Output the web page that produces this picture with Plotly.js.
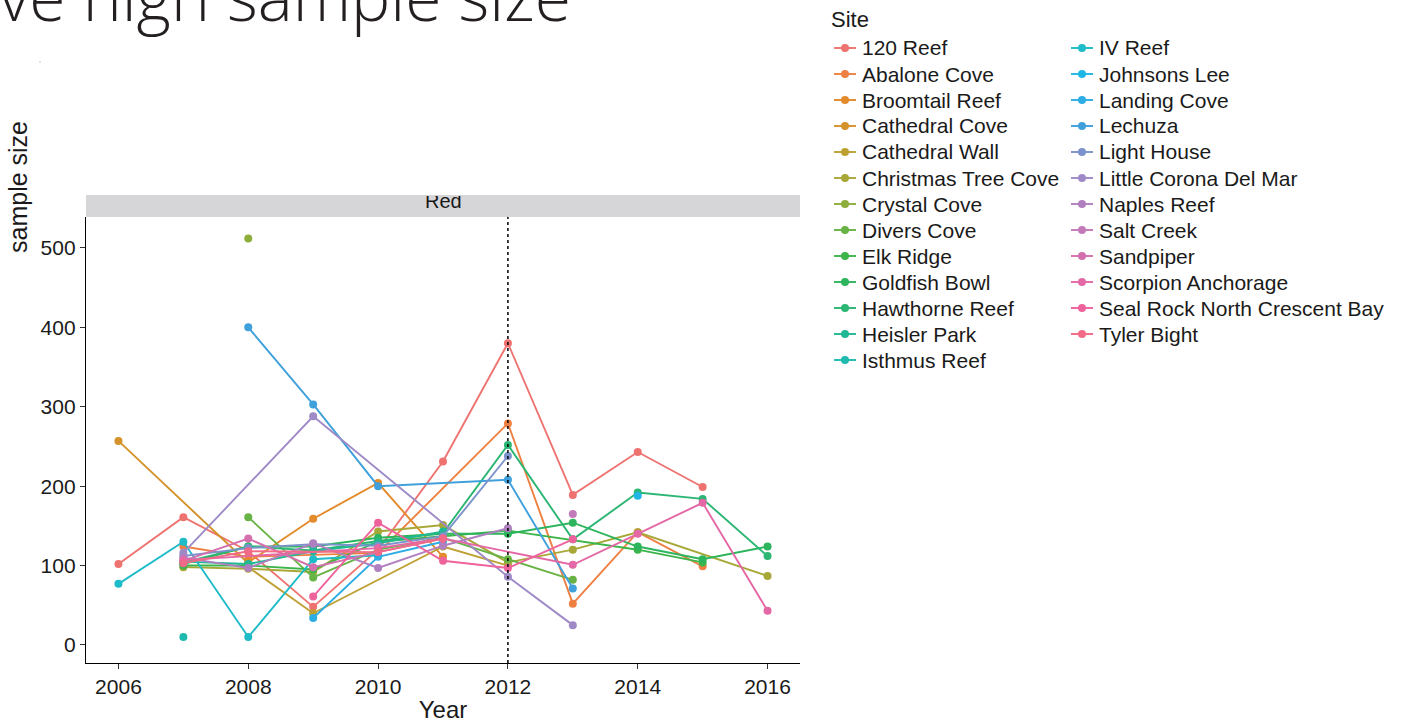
<!DOCTYPE html>
<html>
<head>
<meta charset="utf-8">
<script src="https://cdn.plot.ly/plotly-3.0.1.min.js"></script>
<style>
  html, body { margin: 0; padding: 0; background: #ffffff; }
  #chart { width: 1406px; height: 723px; }
</style>
</head>
<body>
<div id="chart"></div>
<script>
// ---- data ----
const years = [2006, 2007, 2008, 2009, 2010, 2011, 2012, 2013, 2014, 2015, 2016];
const sites = [
  "120 Reef", "Abalone Cove", "Broomtail Reef", "Cathedral Cove", "Cathedral Wall",
  "Christmas Tree Cove", "Crystal Cove", "Divers Cove", "Elk Ridge", "Goldfish Bowl",
  "Hawthorne Reef", "Heisler Park", "Isthmus Reef", "IV Reef", "Johnsons Lee",
  "Landing Cove", "Lechuza", "Light House", "Little Corona Del Mar", "Naples Reef",
  "Salt Creek", "Sandpiper", "Scorpion Anchorage", "Seal Rock North Crescent Bay", "Tyler Bight"
];
const reef120      = [102, 161, 118, 48, 120, 231, 380, 189, 243, 199, null];
const abaloneCove  = [null, 124, 111, null, 116, null, 279, 52, 142, 99, null];
const broomtail    = [null, null, 104, 159, 204, 111, null, null, null, null, null];
const cathCove     = [257, null, 103, null, null, null, null, null, null, null, null];
const cathWall     = [null, null, 98, 40, null, 124, 100, null, null, null, null];
const xmasTree     = [null, 98, 96, 92, 143, 151, 104, 120, 142, null, 87];
const crystalCove  = [null, null, 512, null, null, null, null, null, null, null, null];
const diversCove   = [null, null, 161, 85, 120, 135, 108, 82, null, null, null];
const elkRidge     = [null, 100, 100, 95, 130, 137, 144, null, 120, 104, null];
const goldfishBowl = [null, 102, 124, 124, 135, 140, 140, 154, 124, 108, 124];
const hawthorne    = [null, 104, 124, 119, 131, 141, 252, 133, 192, 184, 112];
const heislerPark  = [null, 105, 102, 118, 128, 143, null, null, null, null, null];
const isthmusReef  = [null, 10, null, null, null, null, null, null, null, null, null];
const ivReef       = [77, 130, 10, 108, 113, null, null, null, null, null, null];
const johnsonsLee  = [null, null, null, null, null, null, null, null, 188, null, null];
const landingCove  = [null, null, null, 34, 111, 130, null, null, null, null, null];
const lechuza      = [null, null, 400, 303, 200, null, 208, 71, null, null, null];
const lightHouse   = [null, 112, 122, 127, 125, 137, 238, null, null, null, null];
const littleCorona = [null, 116, null, 288, null, null, 86, 25, null, null, null];
const naplesReef   = [null, 110, 97, 128, 97, 125, 147, null, null, null, null];
const saltCreek    = [null, null, null, null, null, null, null, 165, null, null, null];
const sandpiper    = [null, 106, 134, 98, 117, 134, null, null, null, null, null];
const scorpion     = [null, 107, null, null, 122, 134, null, 101, 140, 179, 43];
const sealRock     = [null, null, null, 61, 154, 106, 97, 133, null, null, null];
const tylerBight   = [null, 103, 118, null, 117, 134, null, null, null, null, null];
const siteValues = [reef120, abaloneCove, broomtail, cathCove, cathWall, xmasTree, crystalCove,
  diversCove, elkRidge, goldfishBowl, hawthorne, heislerPark, isthmusReef, ivReef, johnsonsLee,
  landingCove, lechuza, lightHouse, littleCorona, naplesReef, saltCreek, sandpiper, scorpion,
  sealRock, tylerBight];
const xTicks = [2006, 2008, 2010, 2012, 2014, 2016];
const yTicks = [0, 100, 200, 300, 400, 500];
const markerYear = 2012;
const panelLabel = "Red";
const legendTitle = "Site";
const xTitle = "Year";
const yTitle = "sample size";
const slideTitle = "ve high sample size";

// ---- styling ----
const palette = [
  "#EE7370", "#EF8043", "#E38A2A", "#D4922A", "#BEA032", "#A8A838", "#8DAE3A", "#68B346",
  "#3BB54A", "#2CB55C", "#2BB673", "#20B894", "#1EBAB0", "#1EBBC9", "#1EB7E5", "#2EADE5",
  "#3FA0DB", "#7C92CC", "#9E8AC6", "#B07FC0", "#C27AB8", "#D470AE", "#E468A6", "#EE639C", "#F16A87"
];
const font = "Liberation Sans, Arial, sans-serif";
const ink = "#1a1a1a";

// plot-area geometry in pixels
const W = 1406, H = 723, L = 86, R = 800, T = 217, B = 663;
const px = v => (v - L) / (R - L);   // pixel x -> paper
const py = v => (B - v) / (B - T);   // pixel y -> paper

const traces = sites.map((name, i) => {
  const xs = [], ys = [];
  siteValues[i].forEach((v, j) => { if (v !== null) { xs.push(years[j]); ys.push(v); } });
  return {
    type: "scatter", mode: "lines+markers", name: name, x: xs, y: ys,
    line: { color: palette[i], width: 1.9 },
    marker: { color: palette[i], size: 8 },
    showlegend: false, hoverinfo: "x+y+name"
  };
});

// legend (two columns, 13 + 12 entries)
const legShapes = [], legNotes = [];
const rowsPerCol = 13, rowStep = 26, firstRow = 48;
const colSym = [834, 1071], colText = [861, 1098];
sites.forEach((name, i) => {
  const c = i < rowsPerCol ? 0 : 1;
  const r = i < rowsPerCol ? i : i - rowsPerCol;
  const yc = firstRow + r * rowStep;
  const x0 = colSym[c];
  legShapes.push({ type: "line", xref: "paper", yref: "paper",
    x0: px(x0), x1: px(x0 + 22), y0: py(yc), y1: py(yc),
    line: { color: palette[i], width: 1.9 } });
  legShapes.push({ type: "circle", xref: "paper", yref: "paper",
    x0: px(x0 + 7), x1: px(x0 + 15), y0: py(yc + 4), y1: py(yc - 4),
    fillcolor: palette[i], line: { width: 0 } });
  legNotes.push({ text: name, xref: "paper", yref: "paper", x: px(colText[c]), xanchor: "left",
    y: py(yc), yanchor: "middle", showarrow: false, borderpad: 0,
    font: { size: 21, family: font, color: ink } });
});

const layout = {
  width: W, height: H,
  margin: { l: L, r: W - R, t: T, b: H - B },
  paper_bgcolor: "#ffffff", plot_bgcolor: "#ffffff",
  font: { family: font, color: ink, size: 21 },
  showlegend: false,
  xaxis: {
    range: [2005.5, 2016.5], tickvals: xTicks, ticks: "outside", ticklen: 5, tickwidth: 1,
    tickcolor: "#333", showline: true, linecolor: "#000", linewidth: 1.2, showgrid: false,
    zeroline: false, tickfont: { size: 21, color: ink, family: font },
    title: { text: xTitle, font: { size: 24, family: font, color: ink }, standoff: 10 }
  },
  yaxis: {
    range: [-22.7, 539], tickvals: yTicks, ticks: "outside", ticklen: 5, tickwidth: 1,
    tickcolor: "#333", showline: true, linecolor: "#000", linewidth: 1.2, showgrid: false,
    zeroline: false, tickfont: { size: 21, color: ink, family: font }
  },
  shapes: [
    { type: "rect", xref: "paper", yref: "paper", x0: 0, x1: 1, y0: 1, y1: py(195),
      fillcolor: "#D6D6D8", line: { width: 0 }, layer: "below" },
    { type: "line", xref: "x", yref: "paper", x0: markerYear, x1: markerYear, y0: 0, y1: 1,
      line: { color: "#000", width: 1.5, dash: "dot" }, layer: "above" },
    { type: "circle", xref: "paper", yref: "paper", x0: px(39), x1: px(41), y0: py(63), y1: py(61),
      fillcolor: "#DDDDDD", line: { width: 0 } }
  ].concat(legShapes),
  annotations: [
    { text: panelLabel, xref: "paper", yref: "paper", x: 0.5, y: py(195), yanchor: "top",
      height: 16, valign: "bottom", borderpad: 0, showarrow: false,
      font: { size: 20, family: font, color: ink } },
    { text: yTitle, xref: "paper", yref: "paper", x: px(18), xanchor: "center",
      y: py(187), yanchor: "middle", textangle: -90, showarrow: false,
      font: { size: 25, family: font, color: ink } },
    { text: legendTitle, xref: "paper", yref: "paper", x: px(830), xanchor: "left",
      y: py(20), yanchor: "middle", showarrow: false, borderpad: 0,
      font: { size: 22, family: font, color: ink } },
    { text: slideTitle, xref: "paper", yref: "paper", x: px(-2), xanchor: "left",
      y: py(41), yanchor: "bottom", showarrow: false, borderpad: 0,
      font: { size: 66, family: "Open Sans, sans-serif", color: "#231F20", weight: 300 } }
  ].concat(legNotes)
};

Plotly.newPlot("chart", traces, layout, { displayModeBar: false, staticPlot: true });
</script>
</body>
</html>
